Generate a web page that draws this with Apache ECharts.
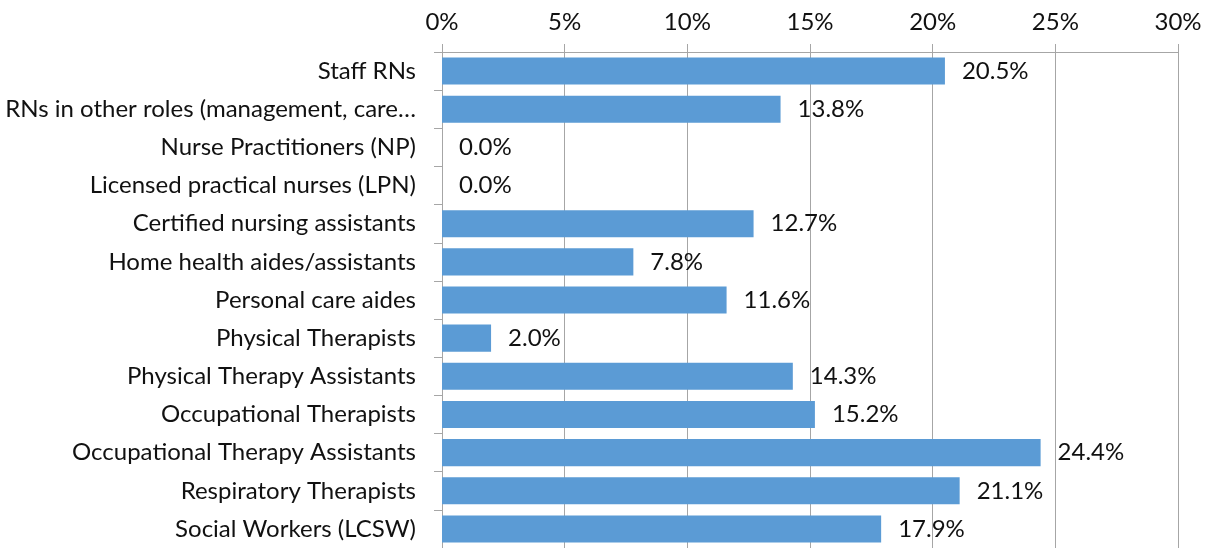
<!DOCTYPE html>
<html>
<head>
<meta charset="utf-8">
<script src="https://cdn.jsdelivr.net/npm/echarts@6/dist/echarts.min.js"></script>
<style>
  html, body { margin: 0; padding: 0; background: #fff; }
  #chart { width: 1209px; height: 548px; }
</style>
</head>
<body>
<div id="chart"></div>
<script>
// categories top to bottom
var roles = [
  'Staff RNs',
  'RNs in other roles (management, care\u2026',
  'Nurse Practitioners (NP)',
  'Licensed practical nurses (LPN)',
  'Certified nursing assistants',
  'Home health aides/assistants',
  'Personal care aides',
  'Physical Therapists',
  'Physical Therapy Assistants',
  'Occupational Therapists',
  'Occupational Therapy Assistants',
  'Respiratory Therapists',
  'Social Workers (LCSW)'
]
var percents = [20.5, 13.8, 0.0, 0.0, 12.7, 7.8, 11.6, 2.0, 14.3, 15.2, 24.4, 21.1, 17.9]
var axisMax = 30
var axisStep = 5

var font = 'Lato, "Open Sans", sans-serif'
var gray = '#a6a6a6'

var myChart = echarts.init(document.getElementById('chart'))
myChart.setOption({
  animation: false,
  grid: { left: 442, right: 31, top: 52, height: 497 },
  xAxis: {
    type: 'value',
    position: 'top',
    min: 0,
    max: axisMax,
    interval: axisStep,
    axisLine: { show: true, lineStyle: { color: gray } },
    axisTick: { show: true, length: 8, lineStyle: { color: gray } },
    splitLine: { show: true, lineStyle: { color: gray } },
    axisLabel: {
      margin: 18,
      color: '#111',
      fontFamily: font,
      fontSize: 24,
      formatter: '{value}%'
    }
  },
  yAxis: {
    type: 'category',
    inverse: true,
    data: roles,
    axisLine: { show: true, lineStyle: { color: gray } },
    axisTick: { show: true, length: 8, lineStyle: { color: gray } },
    axisLabel: {
      margin: 26,
      color: '#111',
      fontFamily: font,
      fontSize: 24,
      padding: [2, 0, 0, 0]
    }
  },
  series: [{
    type: 'bar',
    data: percents,
    barCategoryGap: '29%',
    itemStyle: { color: '#5b9bd5' },
    label: {
      show: true,
      position: 'right',
      distance: 17,
      color: '#111',
      fontFamily: font,
      fontSize: 24,
      padding: [2, 0, 0, 0],
      formatter: function (p) { return p.value.toFixed(1) + '%' }
    }
  }]
})
</script>
</body>
</html>
